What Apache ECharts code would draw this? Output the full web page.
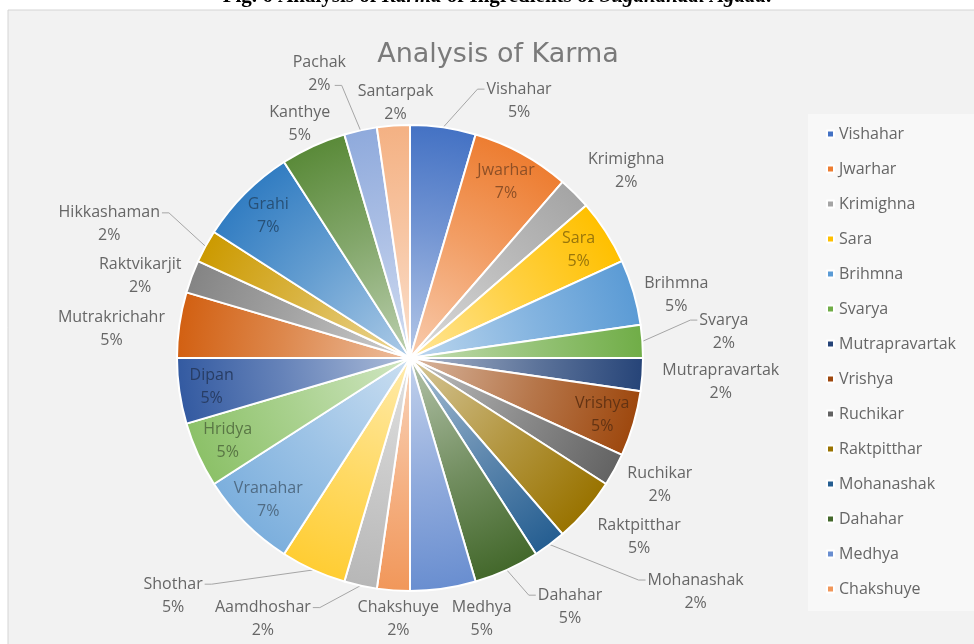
<!DOCTYPE html>
<html><head><meta charset="utf-8">
<script src="https://cdn.jsdelivr.net/npm/echarts@6/dist/echarts.min.js"></script>
<style>html,body{margin:0;padding:0;background:#fff}#c{width:974px;height:644px}</style>
</head><body><div id="c"></div>
<script>
// ---- data ----
const categories = ['Vishahar','Jwarhar','Krimighna','Sara','Brihmna','Svarya','Mutrapravartak','Vrishya','Ruchikar','Raktpitthar','Mohanashak','Dahahar','Medhya','Chakshuye','Aamdhoshar','Shothar','Vranahar','Hridya','Dipan','Mutrakrichahr','Raktvikarjit','Hikkashaman','Grahi','Kanthye','Pachak','Santarpak'];
const counts = [2,3,1,2,2,1,1,2,1,2,1,2,2,1,1,2,3,2,2,2,1,1,3,2,1,1];
const insideLabels = ['Jwarhar','Sara','Vrishya','Vranahar','Hridya','Dipan','Grahi'];
const legendCount = 14;
const chartTitle = 'Analysis of Karma';

// ---- styles / label placement tweaks (Excel "best fit" style) ----
const palette = ['#4472C4','#ED7D31','#A5A5A5','#FFC000','#5B9BD5','#70AD47','#264478','#9E480E','#636363','#997300','#255E91','#43682B','#698ED0','#F1975A','#B7B7B7','#FFCD33','#7CAFDD','#8CC168','#335AA1','#D26012','#848484','#CC9A00','#327DC2','#5A8A39','#8FAADC','#F4B183'];
const labelNudge = {
  Vishahar:[71,-2], Krimighna:[23,-5], Brihmna:[10,10], Svarya:[55,-8], Mutrapravartak:[18,6],
  Ruchikar:[15,3], Raktpitthar:[20,10], Mohanashak:[116,27], Dahahar:[49,14], Medhya:[34,6],
  Chakshuye:[8,4], Aamdhoshar:[-87,9], Shothar:[-127,3], Mutrakrichahr:[-13,8], Raktvikarjit:[-11,8],
  Hikkashaman:[-50,-10], Kanthye:[0,1], Pachak:[-35,-32], Santarpak:[5,2]
};
const leaderAttach = {Vishahar:1, Svarya:1, Mohanashak:1, Dahahar:1, Aamdhoshar:1, Shothar:1, Hikkashaman:1, Pachak:2};
const FONT = 'Open Sans';
const LINE_H = 23;
const CX = 410, CY = 358, R = 233;

function hex2rgb(h){h=h.replace('#','');return [0,2,4].map(i=>parseInt(h.substr(i,2),16));}
function mix(a,b,t){const x=hex2rgb(a),y=hex2rgb(b);return 'rgb('+x.map((v,i)=>Math.round(v+(y[i]-v)*t)).join(',')+')';}

const total = counts.reduce((s,v)=>s+v,0);
const pct = v => Math.round(v/total*100) + '%';
const midUnits = []; { let acc=0; counts.forEach(v=>{midUnits.push(acc+v/2); acc+=v;}); }

const mainData = categories.map((name,i)=>{
  const c = palette[i % palette.length];
  const inside = insideLabels.includes(name);
  return {
    name, value: counts[i],
    itemStyle: {color: {type:'radial', x:CX, y:CY, r:R, global:true,
      colorStops:[{offset:0,color:mix(c,'#ffffff',0.6)},{offset:0.55,color:mix(c,'#ffffff',0.25)},{offset:1,color:c}]}},
    label: inside ? {color: mix(c,'#1a1a1a',0.45)} : {},
    labelLine: {show: !!leaderAttach[name]}
  };
});

function placeLabel(p){
  const i = p.dataIndex, name = categories[i];
  const th = midUnits[i]/total*2*Math.PI;
  const s = Math.sin(th), c = Math.cos(th);
  const W = p.labelRect.width, H = p.labelRect.height;
  if (insideLabels.includes(name)) {
    return {x: CX + s*R*0.86, y: CY - c*R*0.86, align:'center', verticalAlign:'middle'};
  }
  const n = labelNudge[name] || [0,0];
  const x = CX + s*(R+2+W/2) + n[0];
  const y = CY - c*(R+2+H/2) + n[1];
  const out = {x, y, align:'center', verticalAlign:'middle'};
  const lead = leaderAttach[name];
  if (lead) {
    const E = [CX + s*R, CY - c*R];
    const ly = y - H/2 + LINE_H*(lead-0.5);
    const half = lead === 1 ? W/2 : W/4;
    let S, Q;
    if (x > E[0]) { S=[x-half-2, ly]; Q=[S[0]-7, ly]; }
    else { S=[x+half+2, ly]; Q=[S[0]+7, ly]; }
    out.labelLinePoints = [E, Q, S];
  }
  return out;
}

const chart = echarts.init(document.getElementById('c'), null, {renderer:'canvas'});
chart.setOption({
  backgroundColor:'#ffffff',
  animation:false,
  graphic:[
    {type:'rect', z:-10, silent:true, shape:{x:8,y:10,width:970,height:640}, style:{fill:'#f2f2f2', stroke:'#d4d4d4', lineWidth:1}},
    {type:'text', silent:true, x:497, y:-3, style:{
      text:'{b|Fig. 6 Analysis of }{bi|Karma}{b| of Ingredients of }{bi|Sugandhadi Agada}{b|.}',
      align:'center', verticalAlign:'middle',
      rich:{b:{fontFamily:'Liberation Serif',fontWeight:'bold',fontSize:21,fill:'#000'},
            bi:{fontFamily:'Liberation Serif',fontWeight:'bold',fontStyle:'italic',fontSize:21,fill:'#000'}}
    }}
  ],
  title:{text:chartTitle, left:493, top:36, textAlign:'center',
    textStyle:{fontFamily:'DejaVu Sans', fontSize:27, fontWeight:'normal', color:'#7a7a7a'}},
  legend:{orient:'vertical', left:808, top:114, padding:[12,20,14,18], backgroundColor:'#f8f8f8',
    icon:'rect', itemWidth:7, itemHeight:7, itemGap:19,
    textStyle:{fontFamily:FONT, fontSize:16, color:'#666666', lineHeight:15},
    data: categories.slice(0,legendCount).map((n,i)=>({name:n, itemStyle:{color:palette[i]}}))},
  series:[
    {type:'pie', center:[CX,CY], radius:[0,R], startAngle:90, clockwise:true,
     avoidLabelOverlap:false,
     itemStyle:{borderColor:'#ffffff', borderWidth:2},
     label:{position:'outside', fontFamily:FONT, fontSize:16, color:'#666666', lineHeight:LINE_H,
       formatter:p=>p.name+'\n'+pct(p.value)},
     labelLine:{length:10, length2:6, lineStyle:{color:'#a6a6a6', width:1}},
     labelLayout: placeLabel,
     data: mainData}
  ]
});
</script></body></html>
